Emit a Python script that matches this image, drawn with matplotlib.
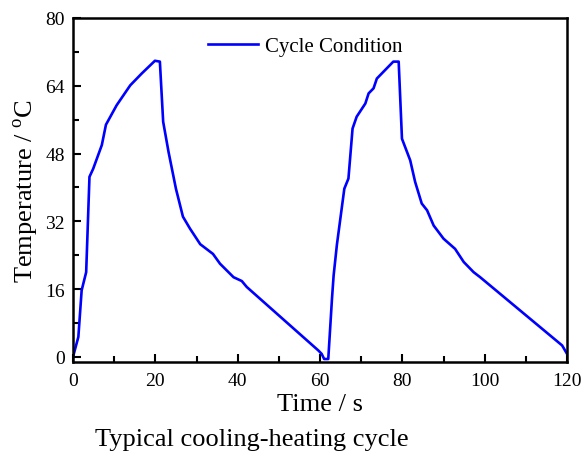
import matplotlib
matplotlib.use('Agg')
from matplotlib import pyplot as plt
from matplotlib.ticker import MultipleLocator

# time (s) and temperature (C)
time_s = [0, 1.3, 2.1, 3.2, 4.0, 4.9, 7.0, 8.0, 10.6, 13.9, 16.7, 19.9, 21.1,
          21.9, 23.2, 25.0, 26.7, 28.4, 30.9, 34.0, 35.7, 39.0, 41.0, 42.2,
          59.6, 60.4, 61.0, 62.0, 62.9, 63.3, 64.1, 65.9, 66.9, 67.9, 68.9,
          71.0, 71.8, 73.0, 73.8, 75.0, 77.8, 79.1, 79.9, 81.9, 83.1, 84.7,
          86.0, 87.6, 90.0, 92.8, 94.9, 97.3, 98.9, 118.8, 120.0]
temp_c = [0, 4.7, 15.7, 20.0, 42.5, 44.4, 50.0, 54.8, 59.4, 64.1, 66.9, 69.9, 69.7,
          55.5, 48.4, 39.7, 33.1, 30.3, 26.6, 24.3, 22.0, 18.8, 17.9, 16.5,
          1.5, 0.7, -0.5, -0.5, 13.7, 19.2, 26.5, 39.7, 42.1, 53.9, 56.7,
          59.8, 62.2, 63.4, 65.7, 66.9, 69.7, 69.7, 51.5, 46.4, 41.3, 36.2,
          34.6, 31.0, 27.9, 25.5, 22.4, 20.0, 18.8, 2.7, 0.7]
x_ticks = [0, 20, 40, 60, 80, 100, 120]
y_ticks = [0, 16, 32, 48, 64, 80]

plt.rcParams['font.family'] = ['Liberation Serif', 'DejaVu Serif']
# serif superscript "o" in the degree sign of the y label
plt.rcParams['mathtext.fontset'] = 'custom'
plt.rcParams['mathtext.rm'] = 'Liberation Serif'

fig = plt.figure(figsize=(5.84, 4.52), dpi=100)
fig.set_facecolor('white')

ax = fig.add_axes((0.125, 0.197, 0.846, 0.761))
ax.plot(time_s, temp_c, color='#0000ff', lw=1.9, label='Cycle Condition')

ax.set_xlim(0, 120)
ax.set_ylim(-1.2, 80)
ax.set_xticks(x_ticks)
ax.set_yticks(y_ticks)
ax.xaxis.set_minor_locator(MultipleLocator(10))
ax.yaxis.set_minor_locator(MultipleLocator(8))
ax.tick_params(which='both', direction='in', top=False, right=False,
               labelsize=14, width=1.5)
ax.tick_params(axis='x', pad=7)
ax.tick_params(axis='y', pad=6)
ax.tick_params(which='major', length=6)
ax.tick_params(which='minor', length=4)
for s in ax.spines.values():
    s.set_linewidth(1.8)

ax.set_xlabel('Time / s', fontsize=19, labelpad=3)
ax.set_ylabel('Temperature / $^{\\mathrm{o}}$C', fontsize=19, labelpad=3)
ax.legend(loc='upper center', bbox_to_anchor=(0.47, 1.0), frameon=False,
          fontsize=15, handlelength=2.4, handletextpad=0.3)

fig.text(252 / 584, 1 - 440 / 452, 'Typical cooling-heating cycle', fontsize=19,
         ha='center', va='center')

fig.savefig('out.png', dpi=100, facecolor=fig.get_facecolor())
